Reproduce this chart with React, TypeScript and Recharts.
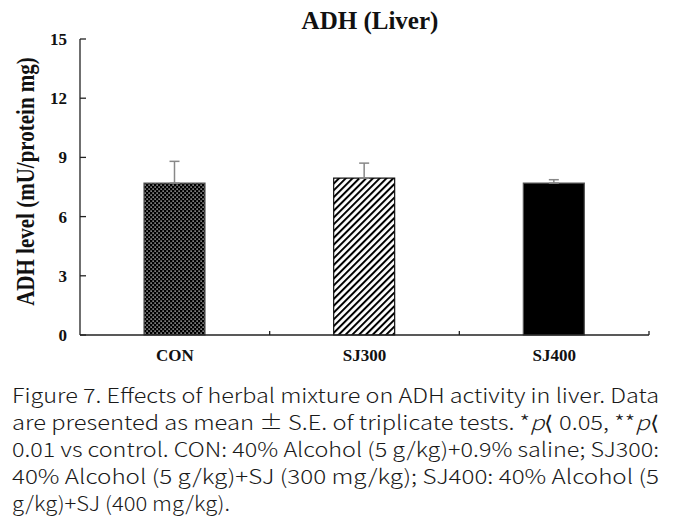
import React from 'react';
import { BarChart, Bar, XAxis, YAxis, ErrorBar, Cell } from 'recharts';

const categories = ['CON', 'SJ300', 'SJ400'];
const means = [7.7, 7.95, 7.7];
const errors = [1.1, 0.76, 0.17];
const yTicks = [0, 3, 6, 9, 12, 15];
const fills = ['url(#dotPattern)', 'url(#hatchPattern)', '#000000'];
const strokes = ['#555555', '#111111', '#555555'];
const title = 'ADH (Liver)';
const yLabel = 'ADH level (mU/protein mg)';
const captionLines = [
  'Figure 7. Effects of herbal mixture on ADH activity in liver. Data',
  'are presented as mean ± S.E. of triplicate tests. *|p|⟨ 0.05, **|p|⟨',
  '0.01 vs control. CON: 40% Alcohol (5 g/kg)+0.9% saline; SJ300:',
  '40% Alcohol (5 g/kg)+SJ (300 mg/kg); SJ400: 40% Alcohol (5',
  'g/kg)+SJ (400 mg/kg).',
];
const captionWidths = [647, 647, 647, 647, 218];

const data = categories.map((c, i) => ({ name: c, value: means[i], err: [0, errors[i]] }));

const W = 673;
const H = 517;
const Y_AXIS_W = 60;
const X_AXIS_H = 40;
const M = { top: 39, right: 24, left: 80 - Y_AXIS_W, bottom: 182 - X_AXIS_H };
const plotW = W - 80 - M.right;
const band = plotW / categories.length;
const serif = "'Liberation Serif', 'Times New Roman', serif";
const sans = "'Noto Sans CJK KR', 'Noto Sans', sans-serif";
const axisColor = '#222222';

const XTick = (props: any) => {
  const { x, y, payload } = props;
  return (
    <g>
      <line x1={x + band / 2} x2={x + band / 2} y1={y} y2={y - 4} stroke={axisColor} strokeWidth={1.3} />
      <text x={x} y={y + 26} textAnchor="middle" fontFamily={serif} fontWeight="bold" fontSize={17} fill="#111">
        {payload.value}
      </text>
    </g>
  );
};

const YTick = (props: any) => {
  const { x, y, payload } = props;
  return (
    <g>
      <line x1={x} x2={x + 6} y1={y} y2={y} stroke={axisColor} strokeWidth={1.3} />
      <text x={x - 13} y={y} dy={6} textAnchor="end" fontFamily={serif} fontWeight="bold" fontSize={17} fill="#111">
        {payload.value}
      </text>
    </g>
  );
};

const renderCaptionLine = (line: string) =>
  line.split('|').map((part, i) => (
    <tspan key={i} fontStyle={i % 2 === 1 ? 'italic' : 'normal'}>
      {part}
    </tspan>
  ));

export default function App() {
  return (
    <div style={{ position: 'absolute', left: 0, top: 0, width: W, height: H, background: '#fff' }}>
      <div style={{ position: 'absolute', left: 0, top: 0 }}>
        <BarChart width={W} height={H} data={data} margin={M}>
          <defs>
            <pattern id="dotPattern" patternUnits="userSpaceOnUse" width={4} height={4}>
              <rect x={0} y={0} width={4} height={4} fill="#000" />
              <rect x={0.5} y={0.5} width={1.2} height={1.2} fill="#fff" />
              <rect x={2.5} y={2.5} width={1.2} height={1.2} fill="#fff" />
            </pattern>
            <pattern
              id="hatchPattern"
              patternUnits="userSpaceOnUse"
              width={4.8}
              height={4.8}
              patternTransform="rotate(45)"
            >
              <rect x={0} y={0} width={4.8} height={4.8} fill="#fff" />
              <rect x={0} y={0} width={2} height={4.8} fill="#000" />
            </pattern>
          </defs>
          <XAxis
            dataKey="name"
            height={X_AXIS_H}
            tickSize={0}
            tickMargin={0}
            interval={0}
            axisLine={{ stroke: axisColor, strokeWidth: 1.3 }}
            tickLine={false}
            tick={<XTick />}
          />
          <YAxis
            width={Y_AXIS_W}
            domain={[0, 15]}
            ticks={yTicks}
            interval={0}
            tickSize={0}
            tickMargin={0}
            axisLine={{ stroke: axisColor, strokeWidth: 1.3 }}
            tickLine={false}
            tick={<YTick />}
          />
          <Bar dataKey="value" barSize={61} isAnimationActive={false} strokeWidth={1.2}>
            {data.map((d, i) => (
              <Cell key={d.name} fill={fills[i]} stroke={strokes[i]} />
            ))}
            <ErrorBar dataKey="err" width={5} stroke="#888888" strokeWidth={1.5} isAnimationActive={false} />
          </Bar>
        </BarChart>
      </div>
      <svg
        width={W}
        height={H}
        style={{ position: 'absolute', left: 0, top: 0, pointerEvents: 'none' }}
      >
        <text x={370} y={29} textAnchor="middle" fontFamily={serif} fontWeight="bold" fontSize={25} fill="#111">
          {title}
        </text>
        <text
          transform="translate(25,181.5) scale(1.2,1) rotate(-90)"
          textAnchor="middle"
          dy="0.35em"
          fontFamily={serif}
          fontWeight="bold"
          fontSize={21}
          fill="#111"
        >
          {yLabel}
        </text>
        {captionLines.map((line, i) => (
          <text
            key={i}
            x={12}
            y={403 + i * 27}
            fontFamily={sans}
            fontWeight={300}
            fontSize={20}
            fill="#1a1a1a"
            textLength={captionWidths[i]}
            lengthAdjust="spacingAndGlyphs"
          >
            {renderCaptionLine(line)}
          </text>
        ))}
      </svg>
    </div>
  );
}
